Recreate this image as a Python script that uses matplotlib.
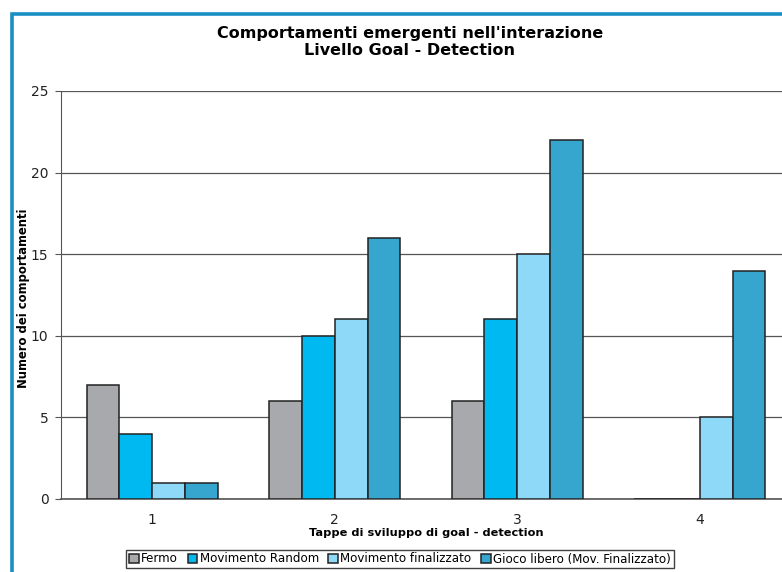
import matplotlib
matplotlib.use("Agg")
import matplotlib.pyplot as plt
import numpy as np
from matplotlib.patches import Rectangle

categories = ["1", "2", "3", "4"]
series_names = ["Fermo", "Movimento Random", "Movimento finalizzato",
                "Gioco libero (Mov. Finalizzato)"]
fermo = [7, 6, 6, 0]
movimento_random = [4, 10, 11, 0]
movimento_finalizzato = [1, 11, 15, 5]
gioco_libero = [1, 16, 22, 14]
series_values = [fermo, movimento_random, movimento_finalizzato, gioco_libero]
colors = ["#A7A9AC", "#00B9F1", "#8ED8F8", "#37A6CE"]
y_ticks = [0, 5, 10, 15, 20, 25]

W, H = 782, 572
fig = plt.figure(figsize=(W / 100, H / 100), dpi=100)

# outer frame of the chart area
fig.patches.append(Rectangle((11.5 / W, -0.2), 1.5, 1.2 - 14 / H,
                             transform=fig.transFigure, fill=False,
                             edgecolor="#1A8FC4", linewidth=2.6, zorder=0))

left, right = 61, 791
bottom, top = 499, 91
ax = fig.add_axes([left / W, 1 - bottom / H, (right - left) / W, (bottom - top) / H])

x = np.arange(len(categories))
bw = 0.18
for i, (vals, c, name) in enumerate(zip(series_values, colors, series_names)):
    ax.bar(x + (i - 1.5) * bw, vals, width=bw, color=c, edgecolor="#222222",
           linewidth=1.1, label=name, zorder=3)

ax.set_xlim(-0.5, len(categories) - 0.5)
ax.set_ylim(0, 25)
ax.set_yticks(y_ticks)
ax.set_xticks(x)
ax.set_xticklabels(categories)
ax.yaxis.grid(True, color="#555555", linewidth=0.9, zorder=0)
ax.set_axisbelow(True)
for s in ["top", "right"]:
    ax.spines[s].set_visible(False)
ax.spines["left"].set_color("#555555")
ax.spines["bottom"].set_color("#555555")
ax.spines["bottom"].set_linewidth(1.2)
ax.tick_params(axis="y", length=4, color="#555555", labelsize=10, pad=5,
               labelcolor="#222222")
ax.tick_params(axis="x", length=0, labelsize=10, pad=10, labelcolor="#222222")

ax.set_xlabel("Tappe di sviluppo di goal - detection", fontsize=8.2,
              fontweight="bold", labelpad=1)
fig.text(24 / W, 1 - 298 / H, "Numero dei comportamenti", rotation=90,
         fontsize=8.4, fontweight="bold", ha="center", va="center")

fig.text(410 / W, 1 - 42 / H, "Comportamenti emergenti nell'interazione\nLivello Goal - Detection",
         ha="center", va="center", fontsize=11.5, fontweight="bold",
         linespacing=1.2)

leg = fig.legend(loc="center", bbox_to_anchor=(400 / W, 1 - 559 / H), ncol=4,
                 fontsize=8.6, frameon=True, fancybox=False, handlelength=0.8,
                 handleheight=0.8, handletextpad=0.2, columnspacing=0.8,
                 borderpad=0.25, borderaxespad=0)
leg.get_frame().set_edgecolor("#111111")
leg.get_frame().set_linewidth(1.0)

fig.savefig("out.png", dpi=100)
